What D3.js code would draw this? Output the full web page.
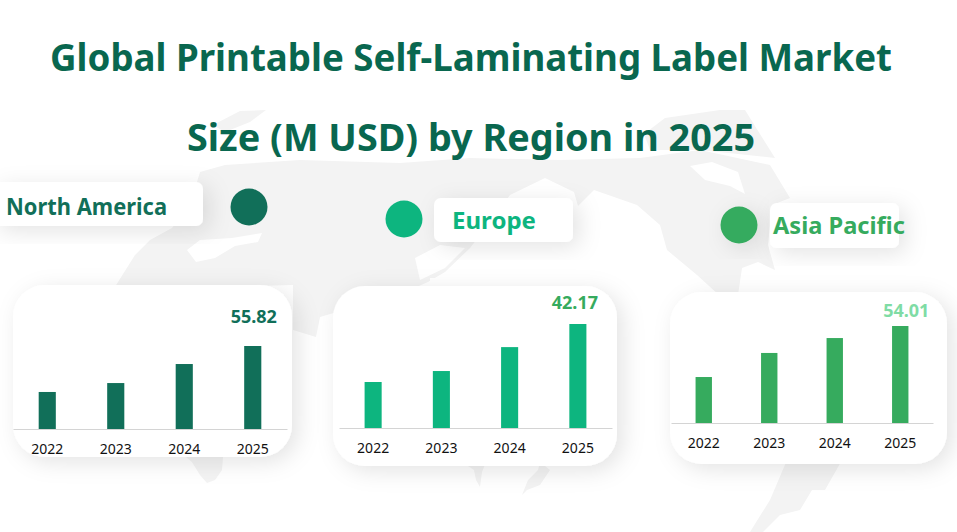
<!DOCTYPE html>
<html>
<head>
<meta charset="utf-8">
<script src="https://cdn.jsdelivr.net/npm/d3@7"></script>
<style>
  html, body { margin: 0; padding: 0; background: #fff; overflow: hidden; }
  svg { display: block; font-family: "Noto Sans", "Open Sans", sans-serif; }
  .tick text { fill: #111; }
</style>
</head>
<body>
<div id="chart"></div>
<script>
// data
var years = ['2022', '2023', '2024', '2025'];
var regions = ['North America', 'Europe', 'Asia Pacific'];
var northAmerica = [24.9, 30.9, 43.7, 55.82];
var europe = [18.65, 23.1, 32.8, 42.17];
var asiaPacific = [25.6, 39.0, 47.3, 54.01];
var titleLines = ['Global Printable Self-Laminating Label Market', 'Size (M USD) by Region in 2025'];

var width = 957, height = 532;

// panel layout, one entry per region
var layout = [
  { values: northAmerica, color: '#116f59', valueColor: '#116f59',
    card: [13, 285, 279, 172], x: [13, 287], base: 429, top: 346, labelDx: 1, labelDy: -23,
    chip: [-6, 182, 209, 44], dot: [249, 207], name: [6, 215, 161] },
  { values: europe, color: '#0db57f', valueColor: '#36ab5e',
    card: [333, 286, 284, 180], x: [339, 612], base: 428, top: 324, labelDx: -3, labelDy: -15,
    chip: [434, 198, 139, 44], dot: [404, 219], name: [452, 229, 84] },
  { values: asiaPacific, color: '#36ab5e', valueColor: '#7fdca5',
    card: [670, 292, 277, 172], x: [671, 933], base: 423, top: 326, labelDx: 6, labelDy: -9,
    chip: [770, 203, 129, 45], dot: [739, 225], dotShadow: true, name: [773, 234, 132] }
];

// faint world map behind everything, traced by hand
var mapLand = [
  [[113,290],[135,255],[150,240],[172,228],[190,205],[200,172],[225,165],[300,160],[400,163],[470,158],[560,160],[640,158],[700,150],[770,165],[790,198],[772,205],[768,245],[775,270],[758,262],[742,268],[738,295],[745,305],[720,296],[697,275],[667,250],[660,225],[637,205],[594,190],[578,206],[574,192],[545,178],[510,195],[488,225],[470,248],[445,272],[428,282],[405,292],[320,317],[316,337],[293,330],[293,285],[113,290]],
  [[644,134],[665,118],[720,110],[745,110],[770,150],[775,158],[700,150],[650,150]],
  [[213,125],[240,111],[266,110],[250,122],[225,132]],
  [[186,457],[223,457],[222,470],[215,480],[207,483],[200,475],[192,462]],
  [[787,460],[842,460],[825,490],[812,490],[800,510],[780,515],[763,532],[750,532],[770,500]],
  [[462,462],[486,462],[482,472],[480,487],[476,480],[474,470]],
  [[540,462],[550,470],[540,485],[527,490],[522,495],[528,480],[538,470]]
];
var mapHoles = [
  [[690,166],[712,162],[738,172],[745,194],[730,186],[705,180]],
  [[187,250],[200,240],[232,238],[262,233],[258,242],[235,246],[215,258],[196,262]],
  [[415,258],[440,245],[465,248],[445,268],[420,280]],
  [[430,278],[524,278],[524,287],[430,287]]
];

var svg = d3.select('#chart').append('svg')
  .attr('width', width)
  .attr('height', height);

var defs = svg.append('defs');
var shadow = defs.append('filter')
  .attr('id', 'shadow')
  .attr('x', '-30%').attr('y', '-40%')
  .attr('width', '160%').attr('height', '180%');
shadow.append('feDropShadow')
  .attr('dx', 6).attr('dy', 5)
  .attr('stdDeviation', 11)
  .attr('flood-color', '#000')
  .attr('flood-opacity', 0.11);

var line = d3.line();
var map = svg.append('g');
map.selectAll('.land')
  .data(mapLand)
  .enter()
  .append('path')
  .attr('d', function(d) { return line(d) + 'Z'; })
  .style('fill', '#f3f3f3');
map.selectAll('.hole')
  .data(mapHoles)
  .enter()
  .append('path')
  .attr('d', function(d) { return line(d) + 'Z'; })
  .style('fill', '#fff');

svg.selectAll('.title')
  .data(titleLines)
  .enter()
  .append('text')
  .attr('class', 'title')
  .attr('x', 471)
  .attr('y', function(d, i) { return i === 0 ? 71 : 151; })
  .attr('text-anchor', 'middle')
  .style('font-size', '38px')
  .style('font-weight', 700)
  .style('fill', '#09674f')
  .attr('textLength', function(d, i) { return i === 0 ? 842 : 568; })
  .attr('lengthAdjust', 'spacingAndGlyphs')
  .text(function(d) { return d; });

layout.forEach(function(p, i) {
  var g = svg.append('g');

  g.append('rect')
    .attr('x', p.chip[0]).attr('y', p.chip[1])
    .attr('width', p.chip[2]).attr('height', p.chip[3])
    .attr('rx', 7)
    .style('fill', '#fff')
    .style('filter', 'url(#shadow)');

  g.append('circle')
    .attr('cx', p.dot[0]).attr('cy', p.dot[1])
    .attr('r', 18.5)
    .style('fill', p.color)
    .style('filter', p.dotShadow ? 'url(#shadow)' : null);

  g.append('text')
    .attr('x', p.name[0]).attr('y', p.name[1])
    .attr('textLength', p.name[2])
    .attr('lengthAdjust', 'spacingAndGlyphs')
    .style('font-size', '24px')
    .style('font-weight', 700)
    .style('fill', p.color)
    .text(regions[i]);

  g.append('rect')
    .attr('x', p.card[0]).attr('y', p.card[1])
    .attr('width', p.card[2]).attr('height', p.card[3])
    .attr('rx', 32)
    .style('fill', '#fff')
    .style('filter', 'url(#shadow)');

  var x = d3.scaleBand()
    .domain(years)
    .range(p.x)
    .paddingInner(0.75)
    .paddingOuter(0.375);
  var y = d3.scaleLinear()
    .domain([0, d3.max(p.values)])
    .range([p.base, p.top]);

  var axis = g.append('g')
    .attr('transform', 'translate(0,' + p.base + ')')
    .call(d3.axisBottom(x).tickSize(0).tickPadding(15).tickSizeOuter(0));
  axis.select('.domain').style('stroke', '#d4d4d4');
  axis.selectAll('text')
    .style('font-size', '14px')
    .style('font-family', '"Noto Sans", sans-serif');

  g.selectAll('.bar')
    .data(p.values)
    .enter()
    .append('rect')
    .attr('x', function(d, j) { return x(years[j]); })
    .attr('y', function(d) { return y(d); })
    .attr('width', x.bandwidth())
    .attr('height', function(d) { return p.base - y(d); })
    .style('fill', p.color);

  var last = p.values.length - 1;
  g.append('text')
    .attr('x', x(years[last]) + x.bandwidth() / 2 + p.labelDx)
    .attr('y', y(p.values[last]) + p.labelDy)
    .attr('text-anchor', 'middle')
    .style('font-size', '18px')
    .style('font-weight', 700)
    .style('fill', p.valueColor)
    .text(d3.format('.2f')(p.values[last]));
});
</script>
</body>
</html>
